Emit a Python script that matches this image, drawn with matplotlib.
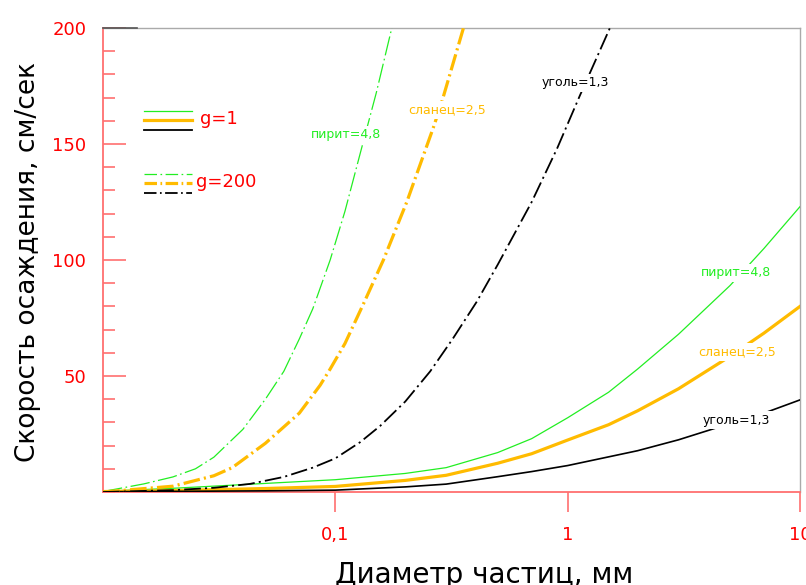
#!/usr/bin/env python3
"""
Скорость осаждения частиц (g=1 и g=200) - логарифмическая ось диаметра
"""

import matplotlib
matplotlib.use('Agg')
import matplotlib.pyplot as plt
from matplotlib.ticker import FixedLocator, MultipleLocator, FixedFormatter

plt.rcParams['font.family'] = ['DejaVu Sans']
plt.rcParams['lines.scale_dashes'] = False

# --- данные: диаметр частиц (мм) и скорость (см/сек) ---
# g = 1 (сплошные линии)
pirit_g1_d = [0.01, 0.02, 0.05, 0.1, 0.2, 0.3, 0.5, 0.7, 1, 1.5, 2, 3, 5, 7, 10]
pirit_g1_v = [0.3, 1.6, 3.7, 5.3, 8, 10.5, 17, 23, 32, 43, 53, 68, 89, 105, 123]

slanec_g1_d = [0.01, 0.02, 0.05, 0.1, 0.2, 0.3, 0.5, 0.7, 1, 1.5, 2, 3, 5, 7, 10]
slanec_g1_v = [0.2, 0.6, 1.5, 2.4, 5, 7.2, 12.4, 16.5, 22.4, 29, 35, 44.5, 58.5, 68.5, 80]

ugol_g1_d = [0.01, 0.05, 0.1, 0.2, 0.3, 0.5, 0.7, 1, 2, 3, 5, 7, 10]
ugol_g1_v = [0.1, 0.5, 0.8, 2.2, 3.4, 6.6, 8.8, 11.4, 17.8, 22.5, 29.5, 34, 39.7]

# g = 200 (штрихпунктир)
pirit_g200_d = [0.01, 0.015, 0.02, 0.025, 0.03, 0.04, 0.05, 0.06, 0.07, 0.08,
                0.095, 0.11, 0.128, 0.15, 0.175]
pirit_g200_v = [0.2, 3.5, 6.5, 10, 15, 27, 40, 52, 66, 79, 100, 121, 146, 172, 200]

slanec_g200_d = [0.01, 0.02, 0.03, 0.036, 0.05, 0.07, 0.086, 0.095, 0.11, 0.132,
                 0.161, 0.203, 0.224, 0.264, 0.287, 0.356]
slanec_g200_v = [0, 2.5, 7, 10.5, 21, 34, 46, 53, 64, 81, 100, 125, 137, 157, 168, 200]

ugol_g200_d = [0.01, 0.02, 0.03, 0.043, 0.06, 0.08, 0.1, 0.128, 0.156, 0.2, 0.256,
               0.32, 0.406, 0.5, 0.7, 0.9, 1.13, 1.52]
ugol_g200_v = [0, 0.8, 1.8, 3.5, 6.5, 10.5, 14.5, 21.5, 28.5, 39, 52, 66, 82, 98,
               125, 148, 171, 200]

x_ticks = [0.1, 1, 10]
x_tick_labels = ['0,1', '1', '10']
y_ticks = [50, 100, 150, 200]

GREEN = '#22ee22'
ORANGE = '#ffbb00'
BLACK = '#000000'
RED = '#ff0000'
AXIS_RED = '#ff7070'

fig = plt.figure(figsize=(8.06, 5.85), dpi=100)
ax = fig.add_axes([103 / 806, 93 / 585, 697 / 806, 464 / 585])
ax.set_xscale('log')
ax.set_xlim(0.01, 10)
ax.set_ylim(0, 200)

DASH_THIN = (0, (14, 2.5, 1.2, 2.5))
DASH_THICK = (0, (12, 3, 1.5, 3))

# сплошные линии g=1
ax.plot(pirit_g1_d, pirit_g1_v, color=GREEN, lw=0.9, zorder=3)
ax.plot(slanec_g1_d, slanec_g1_v, color=ORANGE, lw=2.3, zorder=3)
ax.plot(ugol_g1_d, ugol_g1_v, color=BLACK, lw=1.2, zorder=3)

# штрихпунктир g=200
ax.plot(pirit_g200_d, pirit_g200_v, color=GREEN, lw=0.9, linestyle=DASH_THIN, zorder=3)
ax.plot(slanec_g200_d, slanec_g200_v, color=ORANGE, lw=2.3, linestyle=DASH_THICK, zorder=3)
ax.plot(ugol_g200_d, ugol_g200_v, color=BLACK, lw=1.3, linestyle=DASH_THICK, zorder=3)

# подписи кривых (с белым фоном, разрывают линию)
labels = [
    (0.111, 153.9, 'пирит=4,8', GREEN),
    (0.303, 164.7, 'сланец=2,5', ORANGE),
    (1.076, 176.3, 'уголь=1,3', BLACK),
    (5.31, 94.4, 'пирит=4,8', GREEN),
    (5.36, 60.3, 'сланец=2,5', ORANGE),
    (5.31, 31.0, 'уголь=1,3', BLACK),
]
for x, y, txt, col in labels:
    ax.text(x, y, txt, color=col, fontsize=9, ha='center', va='center', zorder=4,
            bbox=dict(facecolor='white', edgecolor='none', pad=1.5))

# легенда вручную
lx = [0.0588, 0.1277]
ax.plot(lx, [0.821] * 2, color=GREEN, lw=0.9, transform=ax.transAxes)
ax.plot(lx, [0.802] * 2, color=ORANGE, lw=2.3, transform=ax.transAxes)
ax.plot(lx, [0.780] * 2, color=BLACK, lw=1.3, transform=ax.transAxes)
ax.text(0.139, 0.804, 'g=1', color=RED, fontsize=13, va='center', transform=ax.transAxes)

ax.plot(lx, [0.685] * 2, color=GREEN, lw=0.9, linestyle=(0, (9, 2.5, 1.2, 2.5)),
        transform=ax.transAxes)
ax.plot(lx, [0.666] * 2, color=ORANGE, lw=2.3, linestyle=(0, (9, 2.5, 1.2, 2.5)),
        transform=ax.transAxes)
ax.plot(lx, [0.644] * 2, color=BLACK, lw=1.3, linestyle=(0, (9, 2.5, 1.2, 2.5)),
        transform=ax.transAxes)
ax.text(0.133, 0.668, 'g=200', color=RED, fontsize=13, va='center', transform=ax.transAxes)

# оси
for side in ['left', 'bottom']:
    ax.spines[side].set_color(AXIS_RED)
    ax.spines[side].set_linewidth(1.3)
for side in ['top', 'right']:
    ax.spines[side].set_color('#aaaaaa')
    ax.spines[side].set_linewidth(1.0)
# тёмный кусочек верхней рамки у оси Y
ax.plot([0, 0.049], [1, 1], color='#555555', lw=1.2, transform=ax.transAxes,
        clip_on=False, zorder=5)

ax.xaxis.set_major_locator(FixedLocator(x_ticks))
ax.xaxis.set_major_formatter(FixedFormatter(x_tick_labels))
ax.xaxis.set_minor_locator(FixedLocator([]))
ax.tick_params(axis='x', which='major', direction='out', length=14.5, width=1.2,
               color=AXIS_RED, labelcolor=RED, labelsize=13, pad=10)

ax.yaxis.set_major_locator(FixedLocator(y_ticks))
ax.yaxis.set_minor_locator(MultipleLocator(10))
ax.tick_params(axis='y', which='major', direction='in', length=16.5, width=1.2,
               color=AXIS_RED, labelcolor=RED, labelsize=13, pad=12)
ax.tick_params(axis='y', which='minor', direction='in', length=8.5, width=1.2,
               color=AXIS_RED)

fig.text(28 / 806, 1 - 262 / 585, 'Скорость осаждения, см/сек', rotation=90,
         fontsize=19, ha='center', va='center')
fig.text(484 / 806, 2 / 585, 'Диаметр частиц, мм', fontsize=20,
         ha='center', va='baseline')

fig.savefig('out.png', dpi=100, facecolor='white')
